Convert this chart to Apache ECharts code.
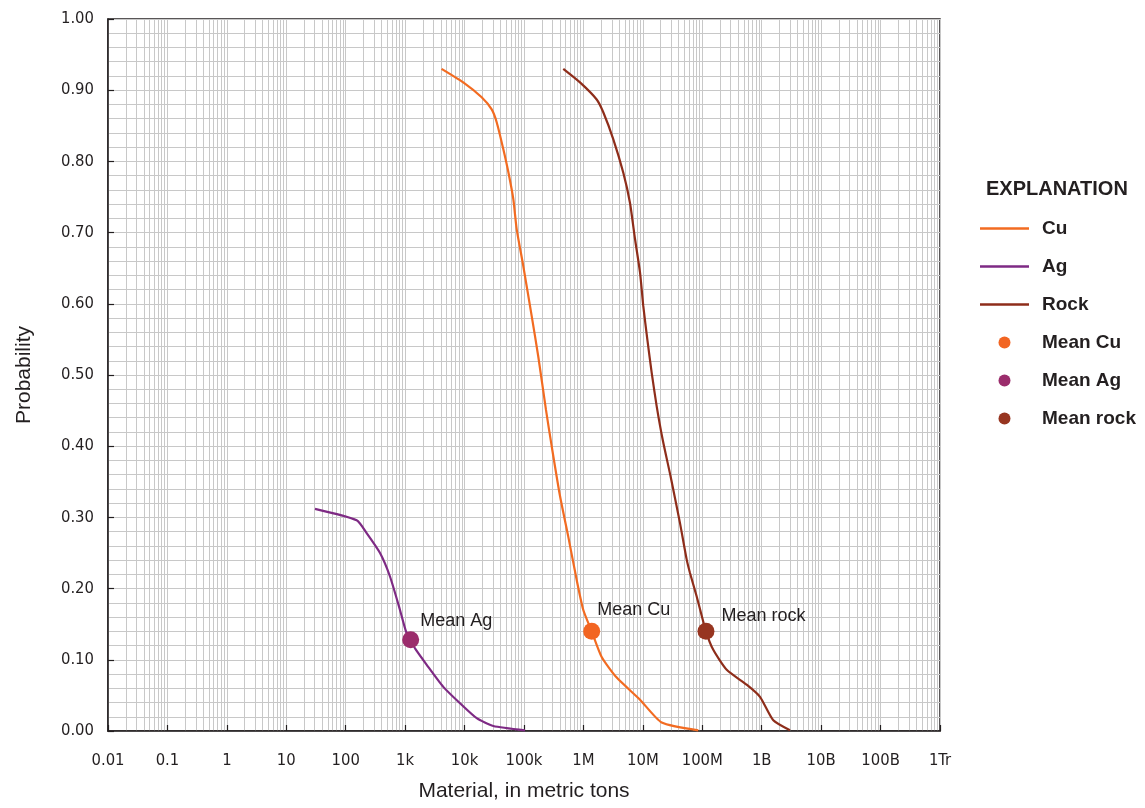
<!DOCTYPE html>
<html>
<head>
<meta charset="utf-8">
<script src="https://cdn.jsdelivr.net/npm/echarts@6/dist/echarts.min.js"></script>
<style>
html,body{margin:0;padding:0;background:#ffffff;}
#c{width:1145px;height:808px;}
</style>
</head>
<body>
<div id="c"></div>
<script>
// ---- data ----
const xTickLabels = ['0.01','0.1','1','10','100','1k','10k','100k','1M','10M','100M','1B','10B','100B','1Tr'];

const cuX = [4100, 9500, 19400, 28600, 34700, 44900, 54500, 66100, 75300, 97300, 134600, 173800, 234400, 292400, 403600, 555900, 770900, 995400, 1377000, 2028000, 3631000, 8954000, 20750000, 85700000];
const cuP = [0.930, 0.911, 0.890, 0.873, 0.855, 0.817, 0.785, 0.747, 0.705, 0.653, 0.583, 0.526, 0.451, 0.400, 0.330, 0.273, 0.212, 0.170, 0.140, 0.104, 0.075, 0.044, 0.012, 0.001];

const agX = [30.4, 153, 225, 378, 556, 819, 1033, 1239, 1466, 2307, 4385, 8375, 16000, 30400, 104000];
const agP = [0.312, 0.296, 0.278, 0.250, 0.217, 0.170, 0.140, 0.128, 0.116, 0.093, 0.062, 0.039, 0.018, 0.007, 0.001];

const rockX = [458100, 875000, 1671000, 2158000, 3184000, 4688000, 6067000, 7379000, 8954000, 10160000, 11890000, 14090000, 17100000, 21580000, 29720000, 42170000, 54580000, 62090000, 80540000, 115300000, 153100000, 257600000, 558500000, 935400000, 1567000000, 2992000000];
const rockP = [0.930, 0.911, 0.887, 0.869, 0.831, 0.784, 0.742, 0.691, 0.644, 0.597, 0.550, 0.503, 0.456, 0.409, 0.355, 0.292, 0.241, 0.222, 0.189, 0.140, 0.114, 0.086, 0.065, 0.048, 0.015, 0.001];

const meanNames = ['Mean Cu', 'Mean Ag', 'Mean rock'];
const meanX = [1377000, 1239, 115300000];
const meanP = [0.140, 0.128, 0.140];

// ---- styling ----
const TXT = '#231f20';
const GRID = '#c8c8c8';
const COND = "'DejaVu Sans Condensed', 'Liberation Sans', sans-serif";
const SANS = "'Liberation Sans', Arial, sans-serif";
const lineColors = {Cu: '#f26b21', Ag: '#7e2a84', Rock: '#8e2d1a'};
const meanColors = ['#f26522', '#9b2d6c', '#973520'];
const meanOffsets = [[-8, -21], [-4, -19], [2, -15]];
const LINE_ICON = 'path://M0,0 L49,0 L49,2.6 L0,2.6 Z';

// minor log gridlines (2..9 within each decade)
const minorX = [];
for (let k = -2; k < 12; k++) {
  for (let m = 2; m <= 9; m++) minorX.push(+(m * Math.pow(10, k)).toPrecision(2));
}

const zip = (xs, ys) => xs.map((x, i) => [x, ys[i]]);

const chart = echarts.init(document.getElementById('c'), null, {renderer: 'canvas'});

const series = [
  {
    name: '_grid', type: 'line', data: [], silent: true, z: 0,
    markLine: {
      silent: true, animation: false, symbol: ['none', 'none'], z: 0,
      label: {show: false},
      lineStyle: {color: GRID, width: 1, type: 'solid'},
      emphasis: {disabled: true},
      data: minorX.map(v => ({xAxis: v}))
    }
  },
  {name: 'Cu', type: 'line', data: zip(cuX, cuP), symbol: 'none', smooth: 0.2, z: 3,
   lineStyle: {color: lineColors.Cu, width: 2.2}, itemStyle: {color: lineColors.Cu}},
  {name: 'Ag', type: 'line', data: zip(agX, agP), symbol: 'none', smooth: 0.2, z: 3,
   lineStyle: {color: lineColors.Ag, width: 2.2}, itemStyle: {color: lineColors.Ag}},
  {name: 'Rock', type: 'line', data: zip(rockX, rockP), symbol: 'none', smooth: 0.2, z: 3,
   lineStyle: {color: lineColors.Rock, width: 2.2}, itemStyle: {color: lineColors.Rock}}
];
meanNames.forEach((n, i) => {
  series.push({
    name: n, type: 'scatter', z: 5, symbol: 'circle', symbolSize: 17,
    itemStyle: {color: meanColors[i], opacity: 1},
    data: [[meanX[i], meanP[i]]],
    label: {
      show: true, position: 'right', offset: meanOffsets[i],
      formatter: n, color: TXT, fontFamily: SANS, fontSize: 18
    }
  });
});

chart.setOption({
  animation: false,
  backgroundColor: '#ffffff',
  title: {
    text: 'EXPLANATION', left: 981, top: 174,
    textStyle: {fontFamily: SANS, fontWeight: 'bold', fontSize: 20, color: TXT}
  },
  legend: {
    orient: 'vertical', left: 975, top: 214,
    data: [
      {name: 'Cu', icon: LINE_ICON},
      {name: 'Ag', icon: LINE_ICON},
      {name: 'Rock', icon: LINE_ICON},
      {name: 'Mean Cu', icon: 'circle'},
      {name: 'Mean Ag', icon: 'circle'},
      {name: 'Mean rock', icon: 'circle'}
    ],
    itemWidth: 49, itemHeight: 12, itemGap: 19,
    selectedMode: false,
    textStyle: {fontFamily: SANS, fontWeight: 'bold', fontSize: 19, color: TXT, padding: [0, 0, 0, 8]}
  },
  grid: {
    left: 108, right: 205, top: 19, bottom: 77,
    show: true, borderColor: TXT, borderWidth: 1.5, backgroundColor: 'transparent'
  },
  xAxis: {
    type: 'log', logBase: 10, min: 0.01, max: 1e12, interval: 1, splitNumber: 14,
    name: 'Material, in metric tons', nameLocation: 'middle', nameGap: 50,
    nameTextStyle: {fontFamily: SANS, fontSize: 21, color: TXT},
    axisLine: {show: true, lineStyle: {color: TXT, width: 1.5}},
    axisTick: {show: true, inside: true, length: 6, interval: 0, lineStyle: {color: TXT, width: 1.2}},
    axisLabel: {
      show: true, interval: 0, showMinLabel: true, showMaxLabel: true, margin: 21,
      hideOverlap: false,
      fontFamily: COND, fontSize: 16.5, color: TXT,
      formatter: v => xTickLabels[Math.round(Math.log10(v)) + 2] || ''
    },
    splitLine: {show: true, interval: 0, lineStyle: {color: GRID, width: 1}},
    minorTick: {show: false},
    minorSplitLine: {show: false}
  },
  yAxis: {
    type: 'value', min: 0, max: 1, interval: 0.1,
    name: 'Probability', nameLocation: 'middle', nameGap: 73,
    nameTextStyle: {fontFamily: SANS, fontSize: 21, color: TXT},
    axisLine: {show: true, lineStyle: {color: TXT, width: 1.5}},
    axisTick: {show: true, inside: true, length: 6, lineStyle: {color: TXT, width: 1.2}},
    axisLabel: {
      margin: 14, fontFamily: COND, fontSize: 16.5, color: TXT,
      formatter: v => v.toFixed(2)
    },
    splitLine: {show: true, lineStyle: {color: GRID, width: 1}},
    minorTick: {show: false, splitNumber: 5},
    minorSplitLine: {show: true, lineStyle: {color: GRID, width: 1}}
  },
  series: series
});
</script>
</body>
</html>
